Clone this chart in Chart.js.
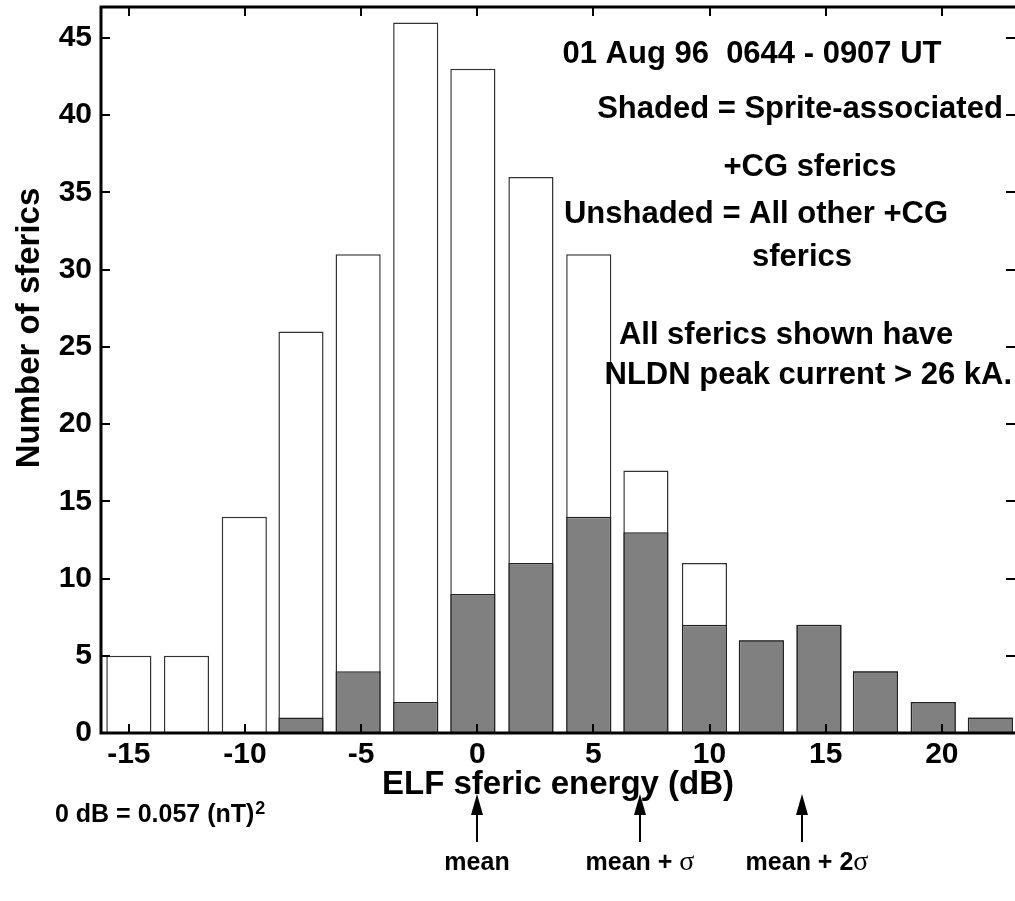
<!DOCTYPE html>
<html>
<head>
<meta charset="utf-8">
<script src="https://cdn.jsdelivr.net/npm/chart.js@4.4.1/dist/chart.umd.min.js"></script>
<style>
  html, body { margin: 0; padding: 0; background: #fff; }
  #wrap { width: 1015px; height: 901px; }
</style>
</head>
<body>
<div id="wrap"><canvas id="elfChart" width="1015" height="901"></canvas></div>
<script>
// bin centres of the histogram (dB)
const binCentres = [-15.0, -12.52, -10.03, -7.59, -5.13, -2.65, -0.19, 2.31, 4.8, 7.26, 9.78, 12.23, 14.71, 17.14, 19.63, 22.09];
// unshaded = all +CG sferics, shaded = sprite-associated ones
const allCounts = [5, 5, 14, 26, 31, 46, 43, 36, 31, 17, 11, 6, 7, 4, 2, 1];
const spriteCounts = [0, 0, 0, 1, 4, 2, 9, 11, 14, 13, 7, 6, 7, 4, 2, 1];
const xTicks = [-15, -10, -5, 0, 5, 10, 15, 20];
const yTicks = [0, 5, 10, 15, 20, 25, 30, 35, 40, 45];
// arrows under the axis: mean, mean + sigma, mean + 2 sigma (dB)
const arrowValues = [0, 7, 14];

const FONT = '"Liberation Sans", Arial, Helvetica, sans-serif';
const SERIF = '"Liberation Serif", "Times New Roman", serif';

function bold(size) { return 'bold ' + size + 'px ' + FONT; }

// frame, inward ticks and all the annotation text
const decorations = {
  id: 'decorations',
  afterDraw(chart) {
    const ctx = chart.ctx;
    const a = chart.chartArea;
    const xs = chart.scales.x;
    const ys = chart.scales.y;
    ctx.save();

    ctx.strokeStyle = '#000';
    ctx.lineWidth = 3;
    ctx.beginPath();
    ctx.moveTo(a.right + 2, a.top);
    ctx.lineTo(a.left, a.top);
    ctx.lineTo(a.left, a.bottom);
    ctx.lineTo(a.right + 2, a.bottom);
    ctx.stroke();

    ctx.lineWidth = 2;
    ctx.beginPath();
    xTicks.forEach(v => {
      const px = Math.round(xs.getPixelForValue(v));
      ctx.moveTo(px, a.bottom); ctx.lineTo(px, a.bottom - 9);
      ctx.moveTo(px, a.top); ctx.lineTo(px, a.top + 9);
    });
    yTicks.forEach(v => {
      if (v === 0) return;
      const py = Math.round(ys.getPixelForValue(v));
      ctx.moveTo(a.left, py); ctx.lineTo(a.left + 9, py);
      ctx.moveTo(a.right, py); ctx.lineTo(a.right - 9, py);
    });
    ctx.stroke();

    ctx.fillStyle = '#000';
    ctx.textBaseline = 'alphabetic';

    // axis titles
    ctx.font = bold(33);
    ctx.textAlign = 'center';
    ctx.fillText('ELF sferic energy (dB)', (a.left + a.right) / 2, 794);
    ctx.save();
    ctx.translate(39, 328);
    ctx.rotate(-Math.PI / 2);
    ctx.fillText('Number of sferics', 0, 0);
    ctx.restore();

    // notes inside the plot
    ctx.font = bold(31);
    ctx.fillText('01 Aug 96  0644 - 0907 UT', 752, 63);
    ctx.fillText('Shaded = Sprite-associated', 800, 118);
    ctx.fillText('+CG sferics', 810, 176);
    ctx.fillText('Unshaded = All other +CG', 756, 223);
    ctx.fillText('sferics', 802, 266);
    ctx.fillText('All sferics shown have', 786, 344);
    ctx.textAlign = 'right';
    ctx.fillText('NLDN peak current > 26 kA.', 1012, 384);

    // 0 dB reference
    ctx.textAlign = 'left';
    ctx.font = bold(25);
    const ref = '0 dB = 0.057 (nT)';
    ctx.fillText(ref, 55, 822);
    const refW = ctx.measureText(ref).width;
    ctx.font = bold(18);
    ctx.fillText('2', 55 + refW + 1, 814);

    // arrows and their labels
    const labelParts = [
      [['mean', 'b']],
      [['mean + ', 'b'], ['\u03c3', 's']],
      [['mean + 2', 'b'], ['\u03c3', 's']]
    ];
    const fontOf = k => k === 'b' ? bold(25) : '28px ' + SERIF;
    arrowValues.forEach((v, i) => {
      const px = Math.round(xs.getPixelForValue(v));
      ctx.lineWidth = 2;
      ctx.beginPath();
      ctx.moveTo(px, 842);
      ctx.lineTo(px, 810);
      ctx.stroke();
      ctx.beginPath();
      ctx.moveTo(px, 794);
      ctx.lineTo(px - 6, 815);
      ctx.lineTo(px + 6, 815);
      ctx.closePath();
      ctx.fill();

      const parts = labelParts[i];
      let total = 0;
      parts.forEach(p => { ctx.font = fontOf(p[1]); total += ctx.measureText(p[0]).width; });
      let cx = px - total / 2 + (i === 2 ? 5 : 0);
      ctx.textAlign = 'left';
      parts.forEach(p => {
        ctx.font = fontOf(p[1]);
        ctx.fillText(p[0], cx, 870);
        cx += ctx.measureText(p[0]).width;
      });
    });

    ctx.restore();
  }
};

const ctx = document.getElementById('elfChart').getContext('2d');
new Chart(ctx, {
  type: 'bar',
  data: {
    datasets: [{
      label: 'Sprite-associated +CG sferics',
      data: binCentres.map((x, i) => ({ x: x, y: spriteCounts[i] })),
      backgroundColor: '#808080',
      borderColor: '#222222',
      borderWidth: 1.5,
      grouped: false,
      barPercentage: 0.8,
      categoryPercentage: 1.0
    }, {
      label: 'All other +CG sferics',
      data: binCentres.map((x, i) => ({ x: x, y: allCounts[i] })),
      backgroundColor: '#ffffff',
      borderColor: '#333333',
      borderWidth: 1.5,
      grouped: false,
      barPercentage: 0.8,
      categoryPercentage: 1.0
    }]
  },
  options: {
    responsive: false,
    animation: false,
    devicePixelRatio: 1,
    layout: { padding: { top: 7, left: 0, right: 0, bottom: 0 } },
    plugins: {
      legend: { display: false },
      tooltip: { enabled: false }
    },
    scales: {
      x: {
        type: 'linear',
        offset: false,
        min: -16.2,
        max: 23.15,
        afterBuildTicks: s => { s.ticks = xTicks.map(v => ({ value: v })); },
        afterFit: s => { s.height = 168; s.paddingLeft = 0; s.paddingRight = 0; },
        grid: { display: false, drawTicks: false },
        border: { display: false },
        ticks: {
          color: '#000',
          font: { family: FONT, size: 30, weight: 'bold' },
          padding: 4,
          maxRotation: 0,
          autoSkip: false
        }
      },
      y: {
        min: 0,
        max: 47,
        afterBuildTicks: s => { s.ticks = yTicks.map(v => ({ value: v })); },
        afterFit: s => { s.width = 101; s.paddingTop = 0; s.paddingBottom = 0; },
        grid: { display: false, drawTicks: false },
        border: { display: false },
        ticks: {
          color: '#000',
          font: { family: FONT, size: 30, weight: 'bold' },
          padding: 9
        }
      }
    }
  },
  plugins: [decorations]
});
</script>
</body>
</html>
